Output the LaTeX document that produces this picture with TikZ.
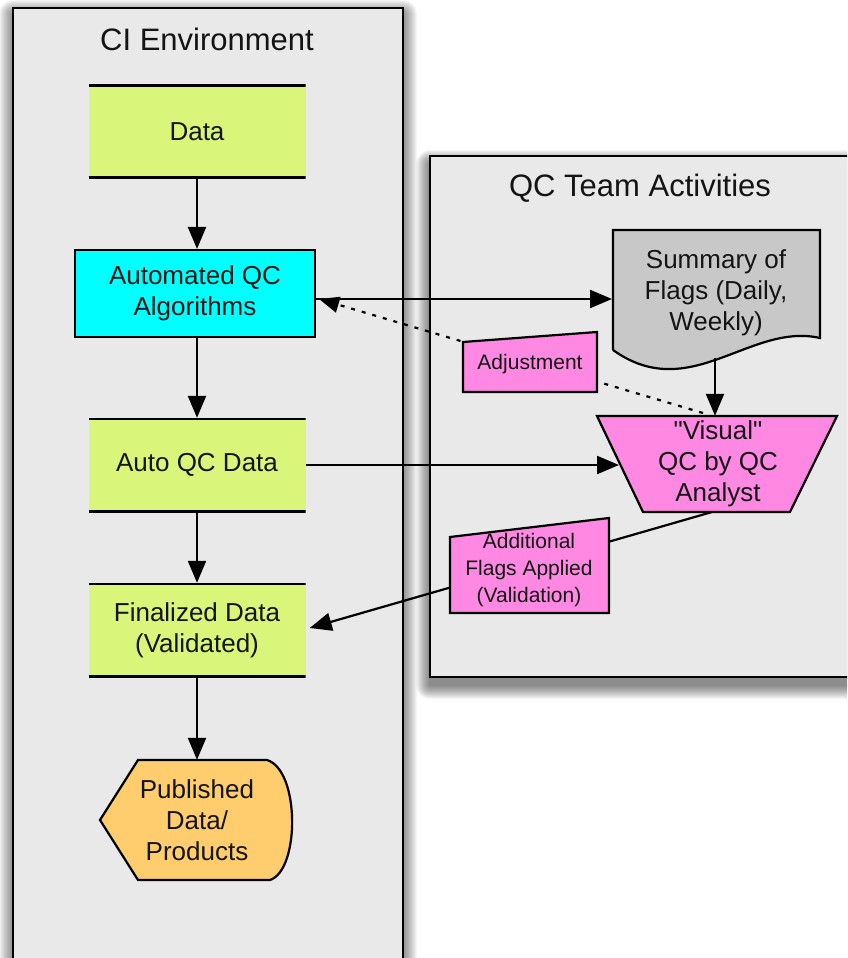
\documentclass[tikz,border=0pt]{standalone}
\usepackage{fontspec}
\setmainfont{Liberation Sans}[Ligatures=TeXOff]
\usetikzlibrary{arrows.meta,calc}

\definecolor{panelgray}{RGB}{233,233,233}
\definecolor{datagreen}{RGB}{218,246,122}
\definecolor{algcyan}{RGB}{0,255,255}
\definecolor{qcpink}{RGB}{255,136,226}
\definecolor{docgray}{RGB}{200,200,200}
\definecolor{pubyellow}{RGB}{255,205,110}
\definecolor{inktext}{RGB}{20,20,20}

\begin{document}
\begin{tikzpicture}[x=1pt,y=-1pt,line join=miter,
  txt/.style={font=\fontsize{26}{31}\selectfont, align=center, text=inktext},
  smalltxt/.style={font=\fontsize{21}{27}\selectfont, align=center, text=inktext},
  paneltitle/.style={font=\fontsize{31}{36}\selectfont, text=inktext},
  databox/.style={txt, rectangle, fill=datagreen, inner sep=0pt,
    minimum width=217pt, minimum height=94pt,
    path picture={\draw[line width=4.4pt]
      (path picture bounding box.north west) -- (path picture bounding box.north east)
      (path picture bounding box.south west) -- (path picture bounding box.south east);}},
  outline/.style={draw=black, line width=2.2pt},
  panel/.style={draw=black, line width=2.4pt, fill=panelgray},
  flow/.style={line width=2.2pt, -{Triangle[length=22pt,width=18pt]}},
  feedback/.style={line width=2.2pt, dash pattern=on 4pt off 7pt,
    -{Triangle[length=20pt,width=16pt]}},
]
\clip (0,0) rectangle (847,958);
\useasboundingbox (0,0) rectangle (847,958);
\fill[white] (0,0) rectangle (847,958);

% soft shadows under the two panels
\foreach \k in {1,...,14}{
  \fill[black, opacity=0.035, rounded corners=\k pt]
    (13-\k, 8-\k+6) rectangle (403+\k, 990+\k);
  \fill[black, opacity=0.04, rounded corners=\k pt]
    (430-\k, 156-\k+8) rectangle (870+\k, 677+\k+8);
}

% panels
\draw[panel] (13,8) rectangle (403,990);
\draw[panel] (430,156) rectangle (870,677);
\node[paneltitle] (citl) at (207,39) {CI Environment};
\node[paneltitle] (qctl) at (640,188) {QC Team Activities};

% CI environment column
\node[databox] (data) at (197,131.5) {Data};
\node[txt, rectangle, outline, fill=algcyan, inner sep=0pt,
      minimum width=240pt, minimum height=87pt] (aqc) at (195,293.5)
      {Automated QC\\Algorithms};
\node[databox] (aqcd) at (197,465) {Auto QC Data};
\node[databox] (fin) at (197,630) {Finalized Data\\(Validated)};

% published data / products (display shape)
\draw[outline, fill=pubyellow] (100,820) -- (138,760) -- (267,760)
  .. controls (300,770) and (300,870) .. (270,880) -- (138,880) -- cycle;
\node[txt, minimum height=120pt, inner sep=0pt] (pub) at (197,820)
  {Published\\Data/\\Products};

% summary of flags (document shape)
\draw[outline, fill=docgray] (613,350) -- (613,230) -- (820,230) -- (820,338)
  .. controls (750,322) and (690,405) .. (613,350);
\node[txt] (sum) at (716,293) {Summary of\\Flags (Daily,\\Weekly)};
\coordinate (sumS) at (715,358);

% visual QC (inverted trapezoid)
\draw[outline, fill=qcpink] (597,416) -- (837,416) -- (790,512) -- (643,512) -- cycle;
\node[txt, minimum height=96pt, inner sep=0pt] (vis) at (718,464) {"Visual"\\QC by QC\\Analyst};
\coordinate (visW) at (619,465);
\coordinate (visN) at (703,413);
\coordinate (visS) at (712,512);

% connectors in the CI column
\draw[flow] (data.south) -- (data.south |- aqc.north);
\draw[flow] (aqc.south -| aqcd.north) -- (aqcd.north);
\draw[flow] (aqcd.south) -- (fin.north);
\draw[flow] (fin.south) -- (pub.north);

% connectors to and from the QC team
\coordinate (aqcE) at ($(aqc.east)+(0,5.5)$);
\draw[flow] (aqcE) -- (aqcE -| 612,0);
\draw[flow] (sumS) -- (sumS |- vis.north);
\draw[flow] (aqcd.east) -- (visW);
\draw[feedback] (visN) -- ($(aqcE)+(3,0)$);
\draw[flow] (visS) -- ($(fin.east)+(4,-2)$);

% connector labels (manual input shapes)
\draw[outline, fill=qcpink] (463,342) -- (597,332) -- (597,392) -- (463,392) -- cycle;
\node[smalltxt] (adj) at (530,364) {Adjustment};
\draw[outline, fill=qcpink] (450,537) -- (609,518) -- (609,613) -- (450,613) -- cycle;
\node[smalltxt] (addf) at (529,570) {Additional\\Flags Applied\\(Validation)};
\end{tikzpicture}
\end{document}
